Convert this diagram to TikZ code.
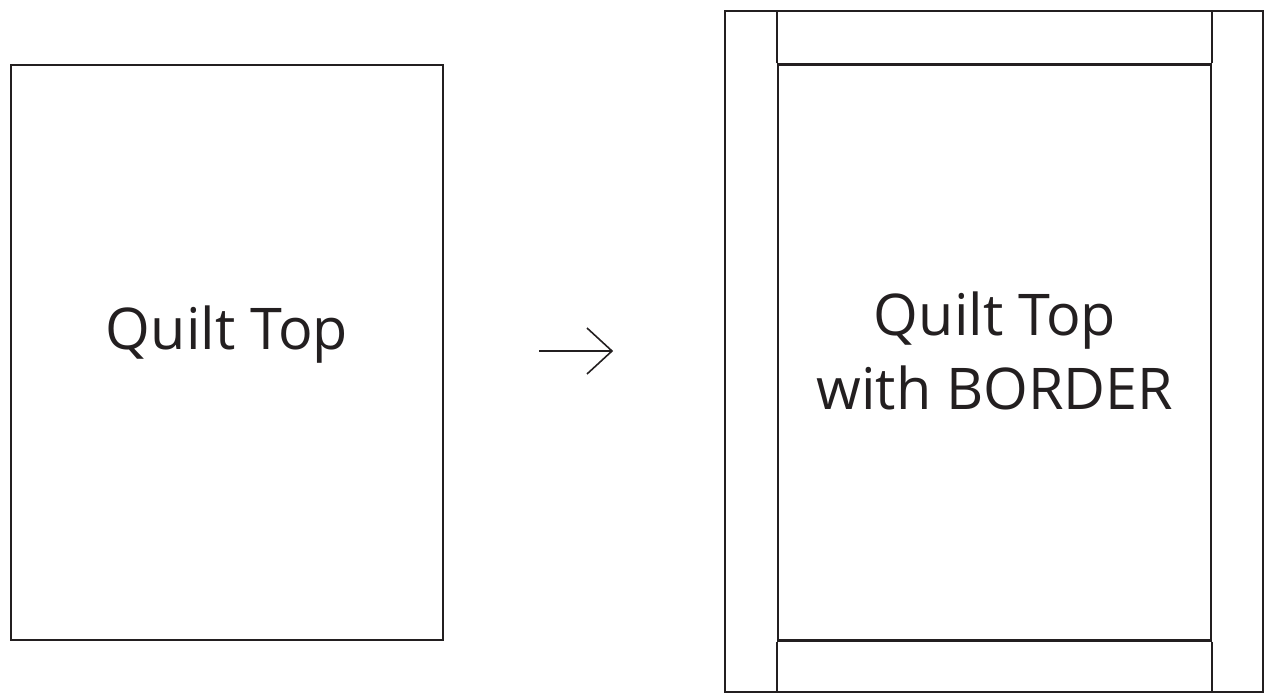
\documentclass[tikz,border=0pt]{standalone}
\usepackage{fontspec}
\setmainfont{Open Sans}
\definecolor{ink}{HTML}{231F20}
\begin{document}
\begin{tikzpicture}[x=1pt,y=-1pt,
  quilt/.style={draw=ink,line width=2.4pt,inner sep=0pt},
  edge/.style={draw=ink,line width=2.4pt},
  lbl/.style={text=ink,font=\fontsize{57.5}{74}\selectfont,align=center,inner sep=0pt}]
\useasboundingbox (0,0) rectangle (1265,694);
% left quilt top
\node[quilt,minimum width=432pt,minimum height=575pt] (left) at (227,352.5) {};
\node[lbl] (lt) at (227,335) {Quilt Top};
% right quilt with border
\node[quilt,minimum width=538pt,minimum height=681pt] (outer) at (994,351.5) {};
\node[quilt,minimum width=433pt,minimum height=576pt] (inner) at (994.5,352.5) {};
\draw[edge] (inner.north west) -- (inner.north west |- outer.north);
\draw[edge] (inner.south west) -- (inner.south west |- outer.south);
\draw[edge] (inner.north east) -- (inner.north east |- outer.north);
\draw[edge] (inner.south east) -- (inner.south east |- outer.south);
\node[lbl] (rt) at (995,351) {Quilt Top\\with BORDER};
% arrow
\coordinate (a0) at (539,351);
\coordinate (a1) at (612,351);
\draw[draw=ink,line width=1.6pt] (a0) -- (a1);
\draw[draw=ink,line width=1.6pt,line join=miter] ([shift={(-25,-23)}]a1) -- (a1) -- ([shift={(-25,23)}]a1);
\end{tikzpicture}
\end{document}
